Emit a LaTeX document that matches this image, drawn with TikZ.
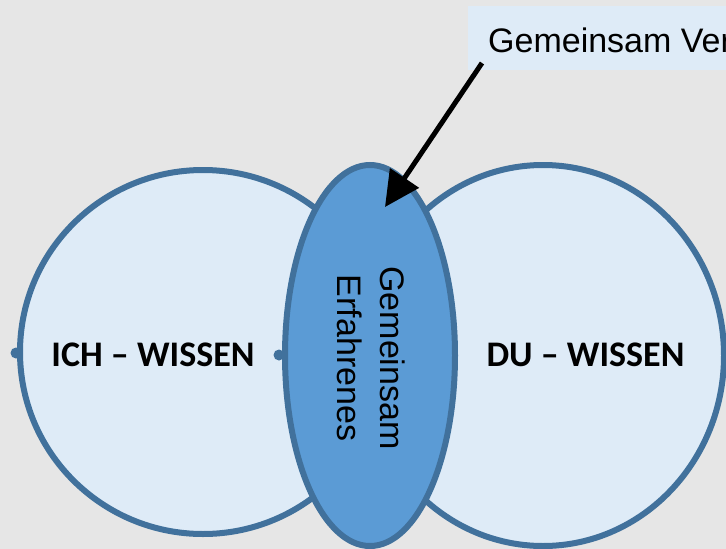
\documentclass[tikz,border=0pt]{standalone}
\usepackage{fontspec}
\setmainfont{Liberation Sans}
\newfontfamily\calibri{Carlito}
\usetikzlibrary{shapes.geometric,arrows.meta}
\definecolor{bgc}{HTML}{E6E6E6}
\definecolor{lightfill}{HTML}{DEEBF7}
\definecolor{borderc}{HTML}{41719C}
\definecolor{midfill}{HTML}{5B9BD5}
\tikzset{
  knowcircle/.style={ellipse, draw=borderc, fill=lightfill, line width=6pt, inner sep=0pt},
  midellipse/.style={ellipse, draw=borderc, fill=midfill, line width=6pt, inner sep=0pt},
  biglabel/.style={font=\calibri\bfseries\fontsize{36}{40}\selectfont, inner sep=0pt},
  midtext/.style={font=\fontsize{34}{43}\selectfont, align=center},
  labelbox/.style={fill=lightfill, inner xsep=20pt, inner ysep=0pt, text height=46pt, text depth=18pt, font=\fontsize{34}{40}\selectfont},
  gluedot/.style={circle, fill=borderc, inner sep=0pt, minimum size=11pt},
  pointer/.style={line width=5pt, -{Triangle[length=35pt,width=34pt]}}
}
\begin{document}
\begin{tikzpicture}[x=1pt,y=-1pt]
  \useasboundingbox (0,0) rectangle (726,549);
  \clip (0,0) rectangle (726,549);
  \fill[bgc] (0,0) rectangle (726,549);
  \node[knowcircle, minimum width=366pt, minimum height=364pt] (ich) at (203,352) {};
  \node[knowcircle, minimum width=362pt, minimum height=381pt] (du) at (543,355.5) {};
  \node[gluedot] (dotl) at (16,353) {};
  \node[gluedot] (dotm) at (279,355) {};
  \node[midellipse, minimum width=381pt, minimum height=170pt, rotate=-90] (mid) at (370,355.5) {};
  \node[midtext, rotate=-90] (midlabel) at (371,358) {Gemeinsam\\Erfahrenes};
  \node[biglabel] (ichlabel) at (153,355) {ICH – WISSEN};
  \node[biglabel] (dulabel) at (585.5,355) {DU – WISSEN};
  \node[labelbox, anchor=base west] (lab) at (468,52) {Gemeinsam Ver};
  \coordinate (astart) at (482,63);
  \coordinate (atip) at (385,207);
  \draw[pointer] (astart) -- (atip);
\end{tikzpicture}
\end{document}
